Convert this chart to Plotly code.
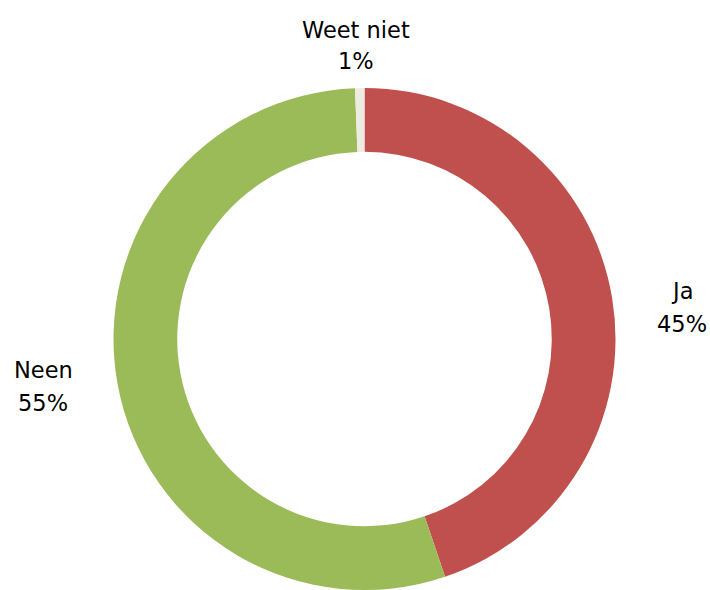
import plotly.graph_objects as go

# Survey answers and their shares (percent)
categories = ["Ja", "Neen", "Weet niet"]
values = [44.8, 54.6, 0.6]
colors = ["#C0504D", "#9BBB59", "#EEECE1"]

W, H = 710, 590

fig = go.Figure(
    go.Pie(
        labels=categories,
        values=values,
        hole=0.746,
        sort=False,
        direction="clockwise",
        rotation=0,
        marker=dict(colors=colors, line=dict(width=0)),
        textinfo="none",
        hoverinfo="label+percent",
        showlegend=False,
        domain=dict(x=[112 / W, 617 / W], y=[0, 502 / H]),
    )
)

# Category labels with rounded percentages, placed around the ring
total = sum(values)
label_pos = {
    "Weet niet": (356, 30, 61),
    "Ja": (682, 291, 324),
    "Neen": (43, 370, 403),
}
font = dict(family="DejaVu Sans, Verdana, sans-serif", size=22.5, color="#000000")
annotations = []
for cat, val in zip(categories, values):
    cx, y1, y2 = label_pos[cat]
    pct = f"{round(100 * val / total):.0f}%"
    for txt, yy in ((cat, y1), (pct, y2)):
        annotations.append(
            dict(
                text=txt,
                x=cx / W,
                y=1 - yy / H,
                xref="paper",
                yref="paper",
                xanchor="center",
                yanchor="middle",
                showarrow=False,
                font=font,
            )
        )

fig.update_layout(
    width=W,
    height=H,
    margin=dict(l=0, r=0, t=0, b=0),
    paper_bgcolor="white",
    plot_bgcolor="white",
    annotations=annotations,
)

fig.write_html("out.html")
